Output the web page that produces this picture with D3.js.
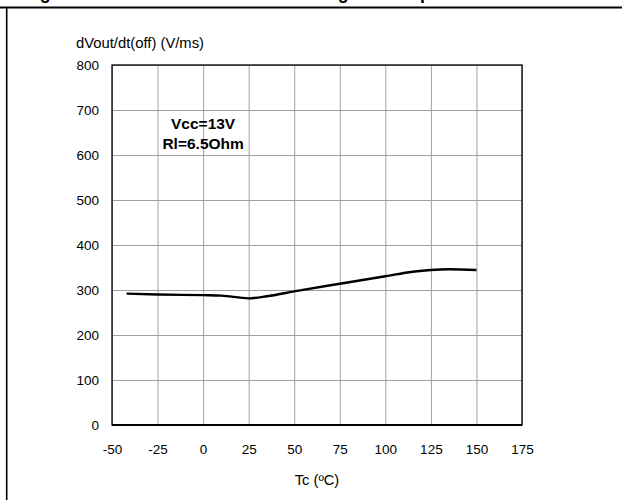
<!DOCTYPE html>
<html>
<head>
<meta charset="utf-8">
<script src="https://cdn.jsdelivr.net/npm/d3@7"></script>
<style>
  html, body { margin: 0; padding: 0; background: #fff; }
  svg { display: block; font-family: "Liberation Sans", Arial, sans-serif; }
</style>
</head>
<body>
<svg id="chart" width="622" height="500"></svg>
<script>
// ---- data ----
const tempC = [-42, -25, 0, 10, 25, 35, 50, 75, 100, 115, 125, 135, 150];
const slopeVms = [292, 290, 288.5, 287.5, 281.5, 286, 297, 314, 330.5, 340.5, 344.5, 346, 344.5];
const xTicks = [-50, -25, 0, 25, 50, 75, 100, 125, 150, 175];
const xTickLabels = ["-50", "-25", "0", "25", "50", "75", "100", "125", "150", "175"];
const yTicks = [0, 100, 200, 300, 400, 500, 600, 700, 800];
const yTickLabels = ["0", "100", "200", "300", "400", "500", "600", "700", "800"];
const titleText = "Figure 30. Turn-off drain source voltage vs temperature";
const yTitle = "dVout/dt(off) (V/ms)";
const xTitle = "Tc (\u00BAC)";
const noteLines = ["Vcc=13V", "Rl=6.5Ohm"];
const notePos = { t: 0, v: [658, 614] };

// ---- layout ----
const svg = d3.select("#chart");
const L = 112, R = 522, T = 65, B = 425;
const x = d3.scaleLinear().domain([-50, 175]).range([L, R]);
const y = d3.scaleLinear().domain([0, 800]).range([B, T]);

// outer frame (cut-off datasheet figure)
svg.append("text")
  .attr("x", 24).attr("y", -0.6)
  .attr("font-size", 17.8).attr("font-weight", "bold")
  .text(titleText);
svg.append("line").attr("x1", 0).attr("x2", 622).attr("y1", 7.5).attr("y2", 7.5)
  .attr("stroke", "#000").attr("stroke-width", 2);
svg.append("line").attr("x1", 6.7).attr("x2", 6.7).attr("y1", 7).attr("y2", 500)
  .attr("stroke", "#000").attr("stroke-width", 1.6);

// grid + y axis
const yAxis = d3.axisLeft(y).tickValues(yTicks)
  .tickFormat((d, i) => yTickLabels[i]).tickSize(-(R - L)).tickPadding(13);
const gy = svg.append("g").attr("transform", `translate(${L},0)`).call(yAxis);
gy.select(".domain").remove();
gy.selectAll(".tick line").attr("stroke", "#a0a0a0").attr("stroke-width", 1);
gy.selectAll(".tick text").attr("font-size", 13.5).attr("fill", "#000")
  .attr("font-family", "Liberation Sans, Arial, sans-serif");

const xAxis = d3.axisBottom(x).tickValues(xTicks)
  .tickFormat((d, i) => xTickLabels[i]).tickSize(-(B - T)).tickPadding(19);
const gx = svg.append("g").attr("transform", `translate(0,${B})`).call(xAxis);
gx.select(".domain").remove();
gx.selectAll(".tick line").attr("stroke", "#a0a0a0").attr("stroke-width", 1);
gx.selectAll(".tick text").attr("font-size", 13.5).attr("fill", "#000")
  .attr("font-family", "Liberation Sans, Arial, sans-serif");

// plot border
svg.append("rect").attr("x", L).attr("y", T).attr("width", R - L).attr("height", B - T)
  .attr("fill", "none").attr("stroke", "#000").attr("stroke-width", 1.3);
svg.append("line").attr("x1", L).attr("x2", R).attr("y1", y(0)).attr("y2", y(0))
  .attr("stroke", "#000").attr("stroke-width", 2.2);

// curve
svg.append("path")
  .datum(slopeVms)
  .attr("d", d3.line().x((d, i) => x(tempC[i])).y(d => y(d)).curve(d3.curveMonotoneX))
  .attr("fill", "none").attr("stroke", "#000").attr("stroke-width", 2.4)
  .attr("stroke-linejoin", "round");

// annotation
noteLines.forEach((t, i) => {
  svg.append("text")
    .attr("x", x(notePos.t)).attr("y", y(notePos.v[i]))
    .attr("text-anchor", "middle").attr("font-size", 15.5).attr("font-weight", "bold")
    .text(t);
});

// axis titles
svg.append("text").attr("x", 76).attr("y", 47.5).attr("font-size", 14.8).text(yTitle);
svg.append("text").attr("x", (L + R) / 2).attr("y", 485)
  .attr("text-anchor", "middle").attr("font-size", 14.7).text(xTitle);
</script>
</body>
</html>
